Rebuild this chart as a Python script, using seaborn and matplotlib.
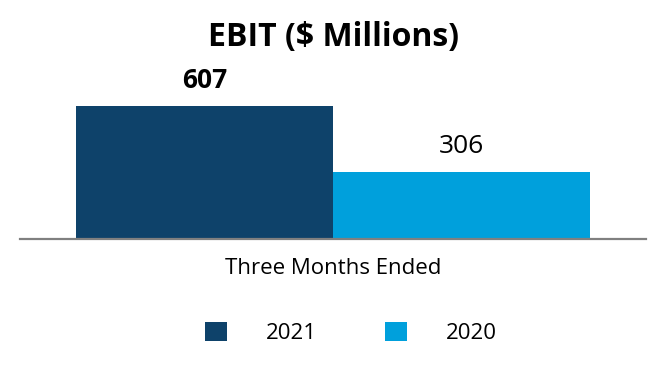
import pandas as pd
import matplotlib
matplotlib.use('Agg')
import matplotlib.pyplot as plt
import seaborn as sns
from matplotlib.patches import Patch

# Dados do gráfico
categories = ['Three Months Ended']
years = ['2021', '2020']
ebit = [607, 306]
colors = ['#0E426A', '#00A0DC']

df = pd.DataFrame({'periodo': categories * len(years), 'ano': years, 'ebit': ebit})

sns.set_style('white')
plt.rcParams['font.family'] = ['Open Sans', 'DejaVu Sans']
plt.rcParams['text.color'] = 'black'
plt.rcParams['xtick.color'] = 'black'

fig = plt.figure(figsize=(6.66, 3.8), dpi=100)
ax = fig.add_axes([0.03, 0.371, 0.94, 0.418])

sns.barplot(data=df, x='periodo', y='ebit', hue='ano', hue_order=years,
            palette=colors, width=0.82, saturation=1, linewidth=0,
            ax=ax, legend=False)

ax.set_ylim(0, 725)
ax.set_xlim(-0.5, 0.5)
ax.set_xlabel('')
ax.set_ylabel('')
ax.set_yticks([])
ax.tick_params(axis='x', length=0, pad=14, labelsize=16, labelcolor='black')
for s in ['top', 'right', 'left']:
    ax.spines[s].set_visible(False)
ax.spines['bottom'].set_color('#808080')
ax.spines['bottom'].set_linewidth(1.6)

# Rótulos de valor
ax.bar_label(ax.containers[0], padding=9, fontsize=19, fontweight='bold', color='black')
ax.bar_label(ax.containers[1], padding=9, fontsize=19, color='black')

fig.suptitle('EBIT ($ Millions)', fontsize=23, fontweight='bold', y=0.945, color='black')

handles = [Patch(facecolor=c, edgecolor='none') for c in colors]
fig.legend(handles, years, loc='center', bbox_to_anchor=(0.527, 0.124), ncol=2,
           frameon=False, fontsize=16, handlelength=1.0, handleheight=1.0,
           handletextpad=1.75, columnspacing=3.05, labelcolor='black')

fig.savefig('out.png', dpi=100)
